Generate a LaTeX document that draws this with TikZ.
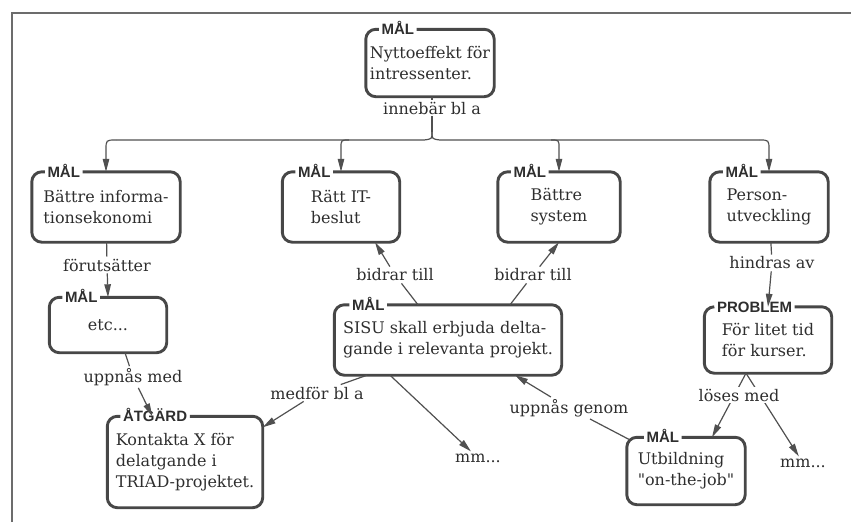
\documentclass[tikz,border=0pt]{standalone}
\usepackage{fontspec}
\setmainfont{DejaVu Serif}[Ligatures=TeXOff]
\newfontfamily\tagfont{Liberation Sans}
\usetikzlibrary{calc,arrows.meta}

\definecolor{ink}{HTML}{2E2E2E}
\definecolor{edgegrey}{HTML}{474747}
\definecolor{wiregrey}{HTML}{505050}

\tikzset{
  boxtext/.style={align=left, font=\fontsize{16}{21}\selectfont, text=ink, inner sep=0pt},
  tagtext/.style={font=\tagfont\bfseries\fontsize{15}{15}\selectfont, text=ink, inner xsep=2.5pt, inner ysep=0pt},
  boxline/.style={draw=edgegrey, line width=2.9pt, rounded corners=10pt},
  linkline/.style={draw=wiregrey, line width=1.2pt},
  linkarrow/.style={linkline, -{Triangle[length=13pt,width=6.5pt]}},
  linklabel/.style={font=\fontsize{16}{18}\selectfont, text=ink, inner sep=2pt},
  outerframe/.style={draw=gray!85!black, line width=2pt},
}

% concept box: name, centre, width, height, tag, tag offset, text
\newcommand\conceptbox[7]{%
  \node[boxtext, minimum width=#3, minimum height=#4] (#1) at #2 {#7};
  \node[tagtext, anchor=base west] (#1-tag) at ($(#1.north west)+(#6,5.5)$) {#5};
  \draw[boxline] (#1-tag.east |- #1.north) -- (#1.north east) -- (#1.south east)
    -- (#1.south west) -- (#1.north west) -- (#1-tag.west |- #1.north);
}

\begin{document}
\begin{tikzpicture}[x=1pt,y=-1pt]
\useasboundingbox (0,0) rectangle (851,522);
\draw[outerframe] (12,522) -- (12,13) -- (851,13);

% concept boxes
\conceptbox{goal}{(430,63)}{128pt}{67pt}{MÅL}{13}{Nyttoeffekt för\\intressenter.}
\conceptbox{info}{(106,207)}{148pt}{70pt}{MÅL}{13}{Bättre informa-\\tionsekonomi}
\conceptbox{itdec}{(341,207)}{117pt}{70pt}{MÅL}{13}{Rätt IT-\\beslut}
\conceptbox{sys}{(559,207)}{122pt}{70pt}{MÅL}{13}{Bättre\\system}
\conceptbox{pers}{(769,207)}{118pt}{70pt}{MÅL}{13}{Person-\\utveckling}
\conceptbox{etc}{(108,325)}{117pt}{55pt}{MÅL}{13}{etc...}
\conceptbox{sisu}{(448,340)}{227pt}{70pt}{MÅL}{15}{SISU skall erbjuda delta-\\gande i relevanta projekt.}
\conceptbox{prob}{(768,340)}{127pt}{66pt}{PROBLEM}{10}{För litet tid\\för kurser.}
\conceptbox{act}{(185,462)}{155pt}{91pt}{ÅTGÄRD}{13}{Kontakta X för\\delatgande i\\TRIAD-projektet.}
\conceptbox{job}{(686,471)}{118pt}{67pt}{MÅL}{17}{Utbildning\\"on-the-job"}

% link labels
\node[linklabel] (l-imp) at (432,108) {innebär bl a};
\node[linklabel] (l-req) at (107,265) {förutsätter};
\node[linklabel] (l-ach) at (133,377) {uppnås med};
\node[linklabel] (l-brings) at (317,393) {medför bl a};
\node[linklabel] (l-con1) at (395,275) {bidrar till};
\node[linklabel] (l-con2) at (533,275) {bidrar till};
\node[linklabel] (l-hind) at (772,263) {hindras av};
\node[linklabel] (l-via) at (569,408) {uppnås genom};
\node[linklabel] (mm1) at (478,458) {mm...};
\node[linklabel] (mm2) at (803,463) {mm...};

% the split below the top goal
\coordinate (brace) at (432,132);
\coordinate (bar) at (432,140);
\draw[linkline] (goal.south -| l-imp.north) -- (l-imp.north);
\draw[linkline] (l-imp.south) -- (brace);
\draw[linkline] (brace) .. controls ($(brace)+(0,7)$) .. ($(brace)+(-8,8)$)
  -- ($(info.north |- bar)+(10,0)$);
\draw[linkline] (brace) .. controls ($(brace)+(0,7)$) .. ($(brace)+(8,8)$)
  -- ($(pers.north |- bar)+(-10,0)$);
\draw[linkarrow] ($(info.north |- bar)+(10,0)$) .. controls (info.north |- bar) ..
  ($(info.north |- bar)+(0,10)$) -- (info.north);
\draw[linkarrow] ($(pers.north |- bar)+(-10,0)$) .. controls (pers.north |- bar) ..
  ($(pers.north |- bar)+(0,10)$) -- (pers.north);
\draw[linkarrow] ($(itdec.north |- bar)+(8,0)$) .. controls (itdec.north |- bar) ..
  ($(itdec.north |- bar)+(0,8)$) -- (itdec.north);
\draw[linkarrow] ($(sys.north |- bar)+(-8,0)$) .. controls (sys.north |- bar) ..
  ($(sys.north |- bar)+(0,8)$) -- (sys.north);

% links
\draw[linkline] (info) -- (l-req);
\draw[linkarrow] (l-req) -- (etc.north);
\draw[linkline] ($(etc.south)+(17,0)$) -- (l-ach);
\draw[linkarrow] (l-ach) -- ($(act.north west)+(45,0)$);
\draw[linkline] ($(sisu.south)+(-81,0)$) -- (l-brings);
\draw[linkarrow] (l-brings) -- ($(act.north east)+(0,11)$);
\draw[linkline] ($(sisu.north)+(-30,0)$) -- (l-con1);
\draw[linkarrow] (l-con1) -- ($(itdec.south)+(34,0)$);
\draw[linkline] ($(sisu.north)+(62,0)$) -- (l-con2);
\draw[linkarrow] (l-con2) -- (sys.south);
\draw[linkline] (pers) -- (l-hind);
\draw[linkarrow] (l-hind) -- (prob.north);
\draw[linkarrow] ($(sisu.south)+(-58,0)$) -- (mm1);
\draw[linkline] ($(job.north west)+(2,2)$) -- (l-via);
\draw[linkarrow] (l-via) -- ($(sisu.south)+(67,0)$);

% two links leaving the problem box through one label
\coordinate (apex) at ($(prob.south)+(-22,0)$);
\draw[linkarrow] (apex) -- ($(job.north)+(26,0)$);
\draw[linkarrow] (apex) -- (mm2);
\node[linklabel, fill=white] (l-solve) at (739,395) {löses med};
\end{tikzpicture}
\end{document}
